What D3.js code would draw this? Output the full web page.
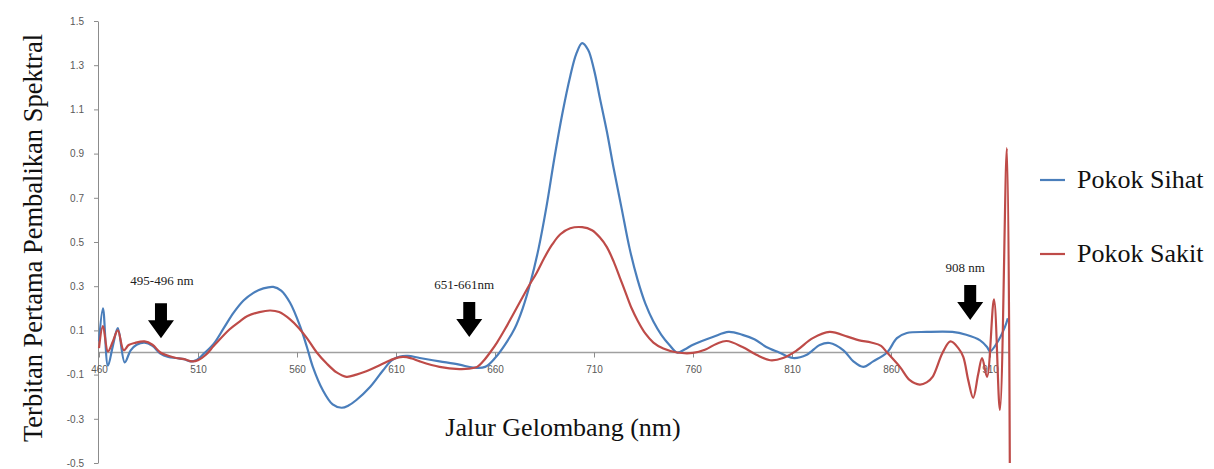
<!DOCTYPE html>
<html>
<head>
<meta charset="utf-8">
<script src="https://cdn.jsdelivr.net/npm/d3@7"></script>
<style>
  body { margin: 0; background: #fff; }
  svg { display: block; }
</style>
</head>
<body>
<div id="chart"></div>
<script>
// Pokok Sihat (healthy) - first derivative of reflectance
const sihatNm = [460, 462, 464.5, 467, 469.5, 473, 476, 479, 483, 487, 491, 495, 499, 503, 506, 509, 513, 518, 523, 528,
  533, 538, 543, 548, 552, 556.5, 561.5, 565, 568, 573, 578, 582.5, 586, 590, 597, 603.5, 608, 612, 616, 622,
  632, 642, 649, 655, 660, 665, 670, 674, 678, 682, 686, 690, 694, 698, 701, 704, 707, 710, 713, 716.5,
  720, 724, 728, 732, 736, 740, 744, 748, 752, 756, 760, 770, 778, 785, 791, 797, 803.5, 810.5, 817.5, 824,
  829, 836, 841, 846, 851, 858, 863, 868, 878, 891, 898, 905, 908.5, 910, 913.5, 917.5, 919];
const sihatVal = [0.05, 0.20, -0.06, 0.03, 0.11, -0.045, 0.01, 0.035, 0.045, 0.03, -0.005, -0.02, -0.025, -0.03, -0.04, -0.035, -0.005, 0.04, 0.11, 0.18,
  0.235, 0.27, 0.29, 0.297, 0.28, 0.225, 0.12, 0.025, -0.065, -0.17, -0.235, -0.25, -0.24, -0.215, -0.155, -0.08, -0.035, -0.018, -0.015, -0.025,
  -0.04, -0.055, -0.068, -0.065, -0.025, 0.035, 0.11, 0.2, 0.32, 0.47, 0.66, 0.88, 1.08, 1.25, 1.35, 1.40, 1.37, 1.28, 1.15, 1.0,
  0.83, 0.65, 0.47, 0.33, 0.22, 0.14, 0.08, 0.035, 0.0, 0.015, 0.035, 0.07, 0.093, 0.08, 0.06, 0.025, 0.0, -0.025, -0.01, 0.034,
  0.043, 0.01, -0.04, -0.065, -0.04, 0.0, 0.065, 0.088, 0.093, 0.093, 0.08, 0.055, 0.025, 0.005, 0.043, 0.115, 0.155];

// Pokok Sakit (diseased)
const sakitNm = [460, 462, 464.5, 467, 469.5, 472.5, 475, 478, 483, 487, 491, 495, 499, 503, 507, 510, 514, 518, 526, 531,
  535, 541, 546.5, 551, 556.5, 561, 565, 570, 575, 580, 585, 590, 595, 602, 608.5, 613.5, 618, 622, 632, 642,
  647, 651, 654, 657.5, 661, 665, 669, 673, 677, 681, 685, 689, 693, 698, 704, 709, 713, 716.5, 720, 723,
  726, 729, 732, 736, 740, 745, 752, 760, 766, 772, 777, 785, 792, 799, 805.5, 812.5, 820.5, 829, 838, 844,
  850, 855, 858, 864.5, 869.5, 874.5, 878, 881, 886, 890, 894, 896.5, 899, 901.5, 904, 906, 908.5, 912, 915, 918.5, 920];
const sakitVal = [0.02, 0.12, 0.005, 0.05, 0.10, 0.01, 0.034, 0.043, 0.05, 0.035, 0.0, -0.015, -0.025, -0.03, -0.04, -0.035, -0.01, 0.03, 0.105, 0.14,
  0.165, 0.183, 0.19, 0.183, 0.15, 0.11, 0.065, 0.0, -0.05, -0.09, -0.11, -0.1, -0.085, -0.057, -0.03, -0.02, -0.027, -0.04, -0.065, -0.075,
  -0.073, -0.065, -0.04, 0.0, 0.045, 0.105, 0.17, 0.235, 0.30, 0.36, 0.43, 0.49, 0.535, 0.562, 0.567, 0.553, 0.52, 0.477, 0.41, 0.34,
  0.27, 0.2, 0.145, 0.085, 0.045, 0.018, 0.0, -0.002, 0.012, 0.04, 0.052, 0.025, -0.01, -0.035, -0.025, 0.01, 0.065, 0.093, 0.072, 0.055,
  0.045, 0.03, 0.0, -0.065, -0.125, -0.145, -0.135, -0.11, -0.002, 0.05, 0.02, -0.02, -0.125, -0.205, -0.1, -0.025, -0.11, 0.24, -0.26, 0.925, -0.5];

const seriesNames = ["Pokok Sihat", "Pokok Sakit"];
const xTicks = [460, 510, 560, 610, 660, 710, 760, 810, 860, 910];
const yTicks = [-0.5, -0.3, -0.1, 0.1, 0.3, 0.5, 0.7, 0.9, 1.1, 1.3, 1.5];

// marked bands
const annoLabels = ["495-496 nm", "651-661nm", "908 nm"];
const annoNm = [491.3, 647, 900];
const annoVal = [0.065, 0.07, 0.147];

class SpectrumChart {
  constructor({selector, width = 1214, height = 469}) {
    this.selector = selector;
    this.width = width;
    this.height = height;
    this.colors = ["#4A7EBB", "#BE4B48"];
    this.axisColor = "#8c8c8c";
    this.serif = "'Liberation Serif', 'Times New Roman', serif";
    this.sans = "'Liberation Sans', Arial, sans-serif";
  }
  drawAxes() {
    let x = this.x, y = this.y;
    let yAxis = d3.axisLeft(y)
      .tickValues(yTicks)
      .tickSize(4)
      .tickSizeOuter(0)
      .tickPadding(10)
      .tickFormat(d => d.toFixed(1));
    let yg = this.svg.append("g")
      .attr("class", "y-axis")
      .attr("transform", `translate(${x(460) - 1},0)`)
      .call(yAxis);
    yg.select(".domain").attr("stroke", this.axisColor);
    yg.selectAll(".tick line").attr("stroke", this.axisColor);
    yg.selectAll(".tick text")
      .attr("fill", "#595959")
      .style("font-family", this.sans)
      .style("font-size", "10px");

    // zero line runs a little past the last labelled tick
    this.svg.append("line")
      .attr("x1", x(460)).attr("x2", x(919.5))
      .attr("y1", y(0)).attr("y2", y(0))
      .attr("stroke", "#a0a0a0")
      .attr("stroke-width", 1.6);

    let xAxis = d3.axisBottom(x)
      .tickValues(xTicks)
      .tickSize(5)
      .tickSizeOuter(0)
      .tickPadding(8)
      .tickFormat(d3.format("d"));
    let xg = this.svg.append("g")
      .attr("class", "x-axis")
      .attr("transform", `translate(0,${y(0)})`)
      .call(xAxis);
    xg.select(".domain").remove();
    xg.selectAll(".tick line").attr("stroke", this.axisColor);
    xg.selectAll(".tick text")
      .attr("fill", "#595959")
      .style("font-family", this.sans)
      .style("font-size", "10px");
  }
  drawLines() {
    let self = this;
    let line = d3.line()
      .x(d => self.x(d[0]))
      .y(d => self.y(d[1]))
      .curve(d3.curveCatmullRom.alpha(0.5));
    let series = [
      d3.zip(sihatNm, sihatVal),
      d3.zip(sakitNm, sakitVal)
    ];
    this.svg.append("g").attr("class", "lines")
      .selectAll("path")
      .data(series)
      .join("path")
      .attr("d", line)
      .attr("fill", "none")
      .attr("stroke", (d, i) => self.colors[i])
      .attr("stroke-width", 2.2)
      .attr("stroke-linejoin", "round");
  }
  drawAnnotations() {
    let self = this;
    let g = this.svg.append("g").attr("class", "annotations");
    annoLabels.forEach((label, i) => {
      let tx = self.x(annoNm[i]);
      let ty = self.y(annoVal[i]);
      // arrow pointing down at the band
      let pts = [
        [tx - 6, ty - 35], [tx + 6, ty - 35], [tx + 6, ty - 18], [tx + 13, ty - 18],
        [tx, ty], [tx - 13, ty - 18], [tx - 6, ty - 18]
      ];
      g.append("path")
        .attr("d", d3.line()(pts) + "Z")
        .attr("fill", "#000");
      g.append("text")
        .attr("x", tx + (i === 0 ? 1 : -5))
        .attr("y", ty - (i === 0 ? 53 : 48))
        .style("text-anchor", "middle")
        .style("font-family", self.serif)
        .style("font-size", "13px")
        .attr("fill", "#222")
        .text(label);
    });
  }
  drawTitles() {
    this.svg.append("text")
      .attr("transform", `translate(42,238) rotate(-90)`)
      .style("text-anchor", "middle")
      .style("font-family", this.serif)
      .style("font-size", "26.5px")
      .attr("fill", "#111")
      .text("Terbitan Pertama Pembalikan Spektral");
    this.svg.append("text")
      .attr("x", 563)
      .attr("y", 436)
      .style("text-anchor", "middle")
      .style("font-family", this.serif)
      .style("font-size", "26px")
      .attr("fill", "#111")
      .text("Jalur Gelombang (nm)");
  }
  drawLegend() {
    let self = this;
    let legend = this.svg.append("g").attr("class", "legend")
      .attr("transform", "translate(1040,180)");
    let items = legend.selectAll("g")
      .data(seriesNames)
      .join("g")
      .attr("transform", (d, i) => `translate(0,${i * 74})`);
    items.append("line")
      .attr("x1", 0).attr("x2", 25)
      .attr("y1", 0).attr("y2", 0)
      .attr("stroke", (d, i) => self.colors[i])
      .attr("stroke-width", 2.2);
    items.append("text")
      .attr("x", 37)
      .attr("y", 8)
      .style("font-family", self.serif)
      .style("font-size", "26px")
      .attr("fill", "#111")
      .text(d => d);
  }
  draw() {
    this.wrapper = d3.select(this.selector);
    this.wrapper.selectAll("*").remove();
    this.svg = this.wrapper.append("svg")
      .attr("width", this.width)
      .attr("height", this.height);
    this.x = d3.scaleLinear().domain([460, 910]).range([99, 990]);
    this.y = d3.scaleLinear().domain([-0.5, 1.5]).range([463, 21]);
    this.drawAxes();
    this.drawLines();
    this.drawAnnotations();
    this.drawTitles();
    this.drawLegend();
  }
}

new SpectrumChart({selector: "#chart"}).draw();
</script>
</body>
</html>
